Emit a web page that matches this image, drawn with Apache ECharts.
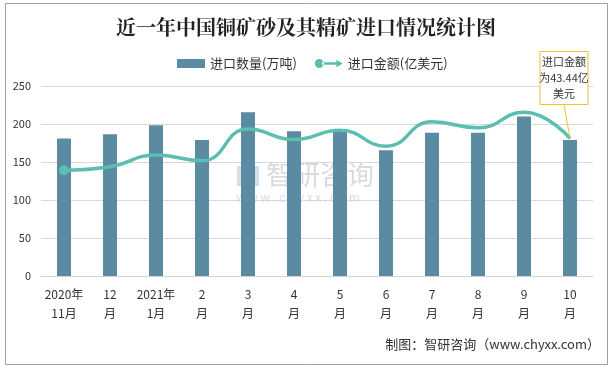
<!DOCTYPE html>
<html><head><meta charset="utf-8">
<script src="https://cdn.jsdelivr.net/npm/echarts@6/dist/echarts.min.js"></script>
<style>html,body{margin:0;padding:0;background:#fff}#c{width:612px;height:367px}</style>
</head><body><div id="c"></div>
<script>
const categories = ['2020年\n11月','12\n月','2021年\n1月','2\n月','3\n月','4\n月','5\n月','6\n月','7\n月','8\n月','9\n月','10\n月'];
const quantity = [181, 186.5, 198.5, 179, 215.5, 190.5, 193, 165.5, 188.5, 188.5, 210, 179];
const amount = [33.4, 34.5, 38.2, 36.4, 46.4, 43.1, 46.0, 41.0, 48.7, 46.8, 51.7, 43.44];
const yTicks = [0, 50, 100, 150, 200, 250];

const chart = echarts.init(document.getElementById('c'), null, {renderer:'canvas'});
const font = '"Noto Sans CJK SC", "Noto Sans", sans-serif';
chart.setOption({
  animation:false,
  textStyle:{fontFamily:font},
  title:{text:'近一年中国铜矿砂及其精矿进口情况统计图', left:'center', top:12,
    textStyle:{fontSize:20, fontWeight:'bold', color:'#222', fontFamily:'"Noto Serif CJK SC", "Noto Sans CJK SC", serif'}},
  legend:{top:52, left:172, itemGap:18, textStyle:{fontSize:13, color:'#333'},
    data:[
      {name:'进口数量(万吨)', icon:'rect', itemStyle:{color:'#5a8ba3'}},
      {name:'进口金额(亿美元)', icon:'path://M0,5 a5,5 0 1,0 10,0 a5,5 0 1,0 -10,0 Z M8,3.6 L24,3.6 L24,0.8 L31,5 L24,9.2 L24,6.4 L8,6.4 Z'}
    ],
    itemWidth:28, itemHeight:9
  },
  grid:{left:41, right:19, top:86, bottom:91},
  xAxis:{type:'category', data:categories,
    axisLine:{lineStyle:{color:'#d0d0d0'}}, axisTick:{show:false},
    axisLabel:{interval:0, fontSize:12, color:'#333', lineHeight:19, margin:9}},
  yAxis:[
    {type:'value', min:0, max:250, interval:50,
      axisLine:{show:false}, axisTick:{show:false},
      axisLabel:{fontSize:11, color:'#333', margin:10},
      splitLine:{lineStyle:{color:'#d9d9d9'}}},
    {type:'value', min:0, max:60, show:false, splitLine:{show:false}}
  ],
  series:[
    {name:'进口数量(万吨)', type:'bar', data:quantity, barWidth:14,
      itemStyle:{color:'#5a8ba3'}},
    {name:'进口金额(亿美元)', type:'line', yAxisIndex:1, smooth:0.5,
      data: amount.map((v,i)=> i===0 ? {value:v, symbol:'circle', symbolSize:10}
        : i===11 ? {value:v, symbol:'circle', symbolSize:1, label:{show:true}} : v),
      symbol:'none', showAllSymbol:true,
      lineStyle:{width:3.5, color:'#5cbdb1'}, itemStyle:{color:'#5cbdb1'},
      label:{show:false, position:'top', distance:0,
        formatter:'进口金额\n为43.44亿\n美元', fontSize:11, color:'#333', lineHeight:16,
        width:45, backgroundColor:'#fff', borderColor:'#f2c12e', borderWidth:1, padding:[2,1,2,1], align:'center'},
      labelLine:{show:true, lineStyle:{color:'#f2c12e', width:1}},
      labelLayout: p => p.dataIndex===11 ? {dx:-6, dy:-34} : {}
    }
  ],
  graphic:[
    {type:'rect', left:3, top:1, shape:{width:602, height:361}, style:{fill:'none', stroke:'#a0a0a0', lineWidth:1}, silent:true},
    {type:'text', right:12, top:338, style:{text:'制图：智研咨询（www.chyxx.com）', font:'13px '+font, fill:'#333'}},
    {type:'rect', left:237, top:166, shape:{width:8, height:20}, style:{fill:'rgba(120,150,190,0.3)'}},
    {type:'rect', left:247, top:166, shape:{width:12, height:20}, style:{fill:'rgba(90,150,210,0.3)'}},
    {type:'text', left:266, top:161, style:{text:'智研咨询', font:'27px '+font, fill:'rgba(150,150,150,0.35)'}},
    {type:'text', left:236, top:191, style:{text:'w w w . c h y x x . c o m', font:'12px '+font, fill:'rgba(150,150,150,0.35)'}}
  ]
});
</script></body></html>
